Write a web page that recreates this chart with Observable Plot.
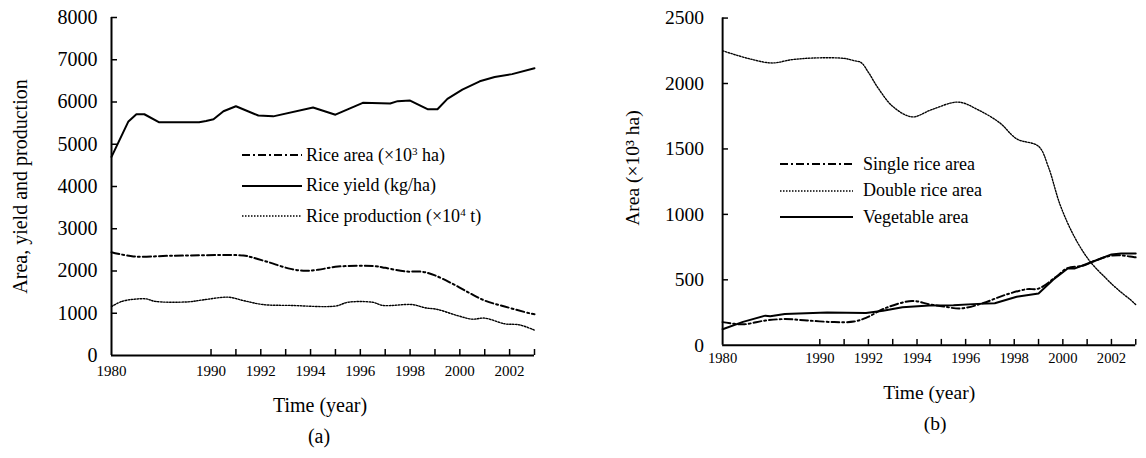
<!DOCTYPE html>
<html>
<head>
<meta charset="utf-8">
<script src="https://cdn.jsdelivr.net/npm/d3@7"></script>
<script src="https://cdn.jsdelivr.net/npm/@observablehq/plot@0.6"></script>
<style>
html, body { margin: 0; padding: 0; overflow: hidden; background: #fff; width: 1146px; height: 458px; }
#wrap { position: relative; width: 1146px; height: 458px; overflow: hidden; font-family: "Liberation Serif", "Times New Roman", serif; color: #000; }
.panel { position: absolute; top: 0; }
.lg-row { position: absolute; height: 24px; display: flex; align-items: center; white-space: nowrap; font-size: 18px; }
.lg-row svg { display: block; }
.lg-row sup { font-size: 11px; vertical-align: 6px; line-height: 0; }
</style>
</head>
<body>
<div id="wrap"></div>
<script>
// ---------- Panel (a) data ----------
const yieldYears = [1980, 1981.7, 1982.5, 1983.3, 1984.8, 1988.8, 1989.5, 1990.1, 1990.5, 1991.0, 1991.9, 1992.5, 1994.1, 1995.0, 1996.1, 1997.2, 1997.5, 1998.0, 1998.7, 1999.1, 1999.5, 2000.1, 2000.8, 2001.4, 2002.1, 2003.0];
const yieldValues = [4700, 5540, 5710, 5710, 5520, 5520, 5550, 5590, 5780, 5900, 5680, 5660, 5870, 5700, 5980, 5965, 6020, 6035, 5830, 5830, 6075, 6295, 6490, 6590, 6660, 6800];

const riceAreaYears = [1980, 1982.2, 1986.0, 1991.3, 1991.6, 1992.3, 1993.2, 1993.8, 1994.3, 1995.1, 1996.6, 1997.0, 1997.8, 1998.5, 1999.0, 1999.7, 2000.4, 2001.0, 2001.8, 2002.8, 2003.0];
const riceAreaValues = [2445, 2345, 2360, 2367, 2330, 2210, 2050, 2005, 2030, 2105, 2115, 2075, 1990, 1980, 1895, 1700, 1475, 1300, 1160, 1000, 975];

const productionYears = [1980, 1981.1, 1982.4, 1983.5, 1984.4, 1987.7, 1989.3, 1990.7, 1991.3, 1992.1, 1993.2, 1995.0, 1995.5, 1996.5, 1996.9, 1998.1, 1998.6, 1999.1, 1999.9, 2000.5, 2001.0, 2001.8, 2002.4, 2003.0];
const productionValues = [1160, 1285, 1335, 1340, 1280, 1270, 1320, 1380, 1300, 1205, 1185, 1170, 1260, 1260, 1185, 1205, 1130, 1090, 945, 860, 885, 750, 725, 600];

// ---------- Panel (b) data ----------
const doubleYears = [1980, 1982.7, 1985.1, 1987.1, 1989.4, 1991.0, 1991.4, 1991.7, 1992.0, 1992.4, 1993.0, 1993.8, 1994.6, 1995.7, 1996.5, 1997.4, 1998.1, 1999.0, 1999.4, 1999.9, 2000.5, 2001.1, 2001.8, 2002.3, 2002.8, 2003.0];
const doubleValues = [2250, 2190, 2157, 2182, 2195, 2192, 2175, 2160, 2085, 1965, 1825, 1745, 1800, 1858, 1800, 1700, 1577, 1520, 1365, 1067, 820, 645, 507, 420, 345, 310];

const singleYears = [1980, 1982.1, 1984.4, 1986.4, 1988.7, 1990.6, 1991.4, 1991.9, 1992.7, 1993.8, 1994.5, 1995.1, 1995.8, 1996.7, 1997.6, 1998.5, 1999.0, 1999.7, 2000.2, 2000.8, 2001.3, 2001.9, 2002.4, 2002.9, 2003.0];
const singleValues = [177, 160, 189, 200, 189, 177, 181, 209, 284, 338, 313, 296, 281, 321, 383, 428, 433, 520, 590, 607, 644, 681, 687, 674, 672];

const vegYears = [1980, 1982.1, 1984.4, 1984.9, 1986.4, 1990.3, 1991.9, 1992.6, 1993.4, 1994.5, 1995.5, 1996.5, 1997.2, 1998.1, 1999.0, 1999.6, 2000.2, 2000.5, 2001.3, 2002.0, 2002.4, 2003.0];
const vegValues = [122, 179, 226, 222, 239, 251, 246, 263, 291, 304, 306, 316, 321, 371, 396, 500, 587, 587, 644, 694, 701, 701];

// ---------- Axes / labels ----------
const xTicks = [1980, 1990, 1991, 1992, 1993, 1994, 1995, 1996, 1997, 1998, 1999, 2000, 2001, 2002, 2003];
const xTickLabels = [1980, 1990, 1992, 1994, 1996, 1998, 2000, 2002];
const yTicksA = [0, 1000, 2000, 3000, 4000, 5000, 6000, 7000, 8000];
const yTicksB = [0, 500, 1000, 1500, 2000, 2500];

const legendA = [
  {pre: "Rice area (×10", sup: "3", post: " ha)", style: "dashdot"},
  {pre: "Rice yield (kg/ha)", sup: "", post: "", style: "solid"},
  {pre: "Rice production (×10", sup: "4", post: " t)", style: "dotted"}
];
const legendB = [
  {pre: "Single rice area", sup: "", post: "", style: "dashdot"},
  {pre: "Double rice area", sup: "", post: "", style: "dotted"},
  {pre: "Vegetable area", sup: "", post: "", style: "solid"}
];

const STYLES = {
  solid: {strokeWidth: 2, dash: null},
  dashdot: {strokeWidth: 2, dash: "8,3,2,3"},
  dotted: {strokeWidth: 1.4, dash: "1.5,1.5"}
};

const fontFamily = '"Liberation Serif", "Times New Roman", serif';
const TICK = 6;

function toRows(years, values) {
  return years.map((y, i) => ({year: y, value: values[i]}));
}

function lineMark(years, values, styleName, curve) {
  const s = STYLES[styleName];
  return Plot.line(toRows(years, values), {
    x: "year", y: "value", stroke: "#000",
    strokeWidth: s.strokeWidth, strokeDasharray: s.dash, curve
  });
}

function panel(cfg) {
  const left = cfg.marginLeft, right = cfg.width - cfg.marginRight;
  const mid = left + (right - left) * 4 / 17;
  const frameW = right - left;
  const frameH = cfg.height - cfg.marginTop - cfg.marginBottom;
  return Plot.plot({
    width: cfg.width, height: cfg.height,
    marginLeft: cfg.marginLeft, marginRight: cfg.marginRight,
    marginTop: cfg.marginTop, marginBottom: cfg.marginBottom,
    style: {fontFamily, fontSize: "20px", color: "#000", background: "transparent", overflow: "visible"},
    x: {type: "linear", domain: [1980, 1990, 2003], range: [left, mid, right], label: null},
    y: {domain: cfg.yDomain, label: null},
    marks: [
      ...cfg.lines,
      // inward tick marks
      Plot.tickX(xTicks.filter(d => d !== 1980), {x: d => d, stroke: "#000", strokeWidth: 1.5, insetTop: frameH - TICK}),
      Plot.tickY(cfg.yTicks.filter(d => d !== 0), {y: d => d, stroke: "#000", strokeWidth: 1.5, insetRight: frameW - TICK}),
      Plot.axisY({ticks: cfg.yTicks, tickSize: 0, tickPadding: cfg.yTickPadding, fontSize: 20, tickFormat: d => String(d), label: null}),
      Plot.axisX({ticks: xTicks, tickSize: 0, tickPadding: cfg.xTickPadding, fontSize: 15,
        tickFormat: d => xTickLabels.includes(d) ? String(d) : "", label: null}),
      Plot.ruleX([1980], {stroke: "#000", strokeWidth: 2}),
      Plot.ruleY([0], {stroke: "#000", strokeWidth: 2}),
      Plot.text([cfg.yLabel], {text: d => d, frameAnchor: "left", textAnchor: "middle", lineAnchor: "middle", rotate: -90, dx: cfg.yLabelDx, dy: cfg.yLabelDy, fontSize: 20, fill: "#000"}),
      Plot.text(["Time (year)"], {text: d => d, frameAnchor: "bottom", textAnchor: "middle", lineAnchor: "middle", dx: cfg.timeDx, dy: cfg.timeDy, fontSize: 20, fill: "#000"}),
      Plot.text([cfg.panelLabel], {text: d => d, frameAnchor: "bottom", textAnchor: "middle", lineAnchor: "middle", dx: cfg.panelDx, dy: cfg.panelDy, fontSize: 20, fill: "#000"})
    ]
  });
}

const wrap = document.getElementById("wrap");

const plotA = panel({
  width: 560, height: 458, marginLeft: 111, marginRight: 26, marginTop: 17, marginBottom: 103,
  yDomain: [0, 8000], yTicks: yTicksA, yTickPadding: 14, xTickPadding: 10,
  yLabel: "Area, yield and production", yLabelDx: -91, yLabelDy: 0,
  timeDx: -3, timeDy: 50, panelLabel: "(a)", panelDx: -4, panelDy: 81,
  lines: [
    lineMark(riceAreaYears, riceAreaValues, "dashdot", "catmull-rom"),
    lineMark(productionYears, productionValues, "dotted", "catmull-rom"),
    lineMark(yieldYears, yieldValues, "solid", "linear")
  ]
});
const divA = document.createElement("div");
divA.className = "panel"; divA.style.left = "0px";
divA.appendChild(plotA);
wrap.appendChild(divA);

const plotB = panel({
  width: 600, height: 458, marginLeft: 166, marginRight: 11, marginTop: 18, marginBottom: 105,
  yDomain: [0, 2500], yTicks: yTicksB, yTickPadding: 19, xTickPadding: 8,
  yLabel: "Area (×10³ ha)", yLabelDx: -92, yLabelDy: -14,
  timeDx: 0, timeDy: 49, panelLabel: "(b)", panelDx: 6, panelDy: 80,
  lines: [
    lineMark(doubleYears, doubleValues, "dotted", "catmull-rom"),
    lineMark(singleYears, singleValues, "dashdot", "catmull-rom"),
    lineMark(vegYears, vegValues, "solid", "linear")
  ]
});
const divB = document.createElement("div");
divB.className = "panel"; divB.style.left = "560px";
divB.appendChild(plotB);
wrap.appendChild(divB);

// ---------- Legends ----------
function addLegend(items, {left, top, gap, lineLen, textGap}) {
  items.forEach((it, i) => {
    const row = document.createElement("div");
    row.className = "lg-row";
    row.style.left = left + "px";
    row.style.top = (top + i * gap - 12) + "px";
    const s = STYLES[it.style];
    const svg = d3.create("svg").attr("width", lineLen).attr("height", 6);
    svg.append("line").attr("x1", 0).attr("x2", lineLen).attr("y1", 3).attr("y2", 3)
      .attr("stroke", "#000").attr("stroke-width", s.strokeWidth)
      .attr("stroke-dasharray", s.dash);
    row.appendChild(svg.node());
    const span = document.createElement("span");
    span.style.marginLeft = textGap + "px";
    span.appendChild(document.createTextNode(it.pre));
    if (it.sup) {
      const sup = document.createElement("sup");
      sup.textContent = it.sup;
      span.appendChild(sup);
    }
    if (it.post) span.appendChild(document.createTextNode(it.post));
    row.appendChild(span);
    wrap.appendChild(row);
  });
}
addLegend(legendA, {left: 242, top: 155, gap: 30.5, lineLen: 60, textGap: 4});
addLegend(legendB, {left: 780, top: 164, gap: 26.5, lineLen: 73, textGap: 10});
</script>
</body>
</html>
